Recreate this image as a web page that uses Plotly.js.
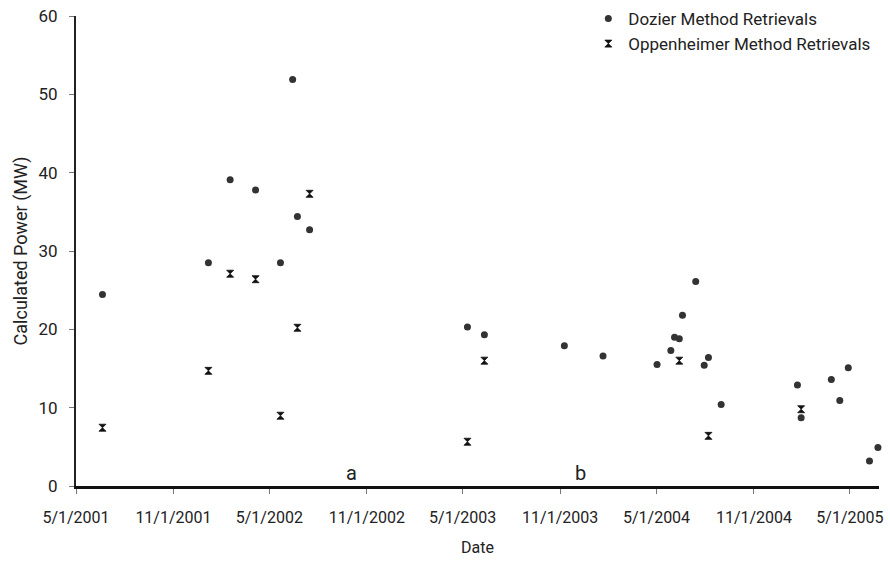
<!DOCTYPE html>
<html>
<head>
<meta charset="utf-8">
<script src="https://cdn.plot.ly/plotly-3.0.1.min.js"></script>
<style>html,body{margin:0;padding:0;background:#fff;}#chart{width:890px;height:572px;}</style>
</head>
<body>
<div id="chart"></div>
<script>
const dozierDates = ["2001-06-20","2002-01-06","2002-02-16","2002-04-05","2002-05-22","2002-06-14","2002-06-23","2002-07-16",
  "2003-05-10","2003-06-11","2003-11-09","2004-01-21",
  "2004-05-02","2004-05-28","2004-06-04","2004-06-13","2004-06-19","2004-07-14","2004-07-30","2004-08-07","2004-08-31",
  "2005-01-22","2005-01-29","2005-03-27","2005-04-12","2005-04-28","2005-06-07","2005-06-23"];
const dozierPower = [24.45,28.5,39.1,37.8,28.5,51.9,34.4,32.7,
  20.3,19.3,17.9,16.6,
  15.5,17.3,19.0,18.8,21.8,26.1,15.4,16.4,10.4,
  12.9,8.7,13.6,10.9,15.1,3.2,4.9];
const oppDates = ["2001-06-20","2002-01-06","2002-02-16","2002-04-05","2002-05-22","2002-06-23","2002-07-16",
  "2003-05-10","2003-06-11","2004-06-13","2004-08-07","2005-01-29"];
const oppPower = [7.44,14.7,27.1,26.4,8.97,20.2,37.3,5.65,16.0,16.0,6.4,9.8];
const tickVals = ["2001-05-01","2001-11-01","2002-05-01","2002-11-01","2003-05-01","2003-11-01","2004-05-01","2004-11-01","2005-05-01"];
const tickText = ["5/1/2001","11/1/2001","5/1/2002","11/1/2002","5/1/2003","11/1/2003","5/1/2004","11/1/2004","5/1/2005"];
const yTicks = [0,10,20,30,40,50,60];
const panelLabels = ["a","b"];
const panelDates = ["2002-10-04","2003-12-09"];
const panelY = [1.7,1.7];

const FONT = "Roboto, 'Liberation Sans', sans-serif";
const traces = [
  {type:"scatter", mode:"markers", name:"Dozier Method Retrievals", x:dozierDates, y:dozierPower,
   marker:{symbol:"circle", size:7, color:"#333333"}, cliponaxis:false},
  {type:"scatter", mode:"markers", name:"Oppenheimer Method Retrievals", x:oppDates, y:oppPower,
   marker:{symbol:"hourglass", size:7, color:"#111111", line:{width:0.8,color:"#111111"}}, cliponaxis:false}
];
const layout = {
  width:890, height:572,
  margin:{l:75.5, r:11, t:15.5, b:86, pad:0, autoexpand:false},
  paper_bgcolor:"#fff", plot_bgcolor:"#fff",
  font:{family:FONT, color:"#222", size:15},
  showlegend:true,
  legend:{x:0.638, y:1.032, xanchor:"left", yanchor:"top", bgcolor:"rgba(0,0,0,0)",
          font:{family:FONT, size:17, color:"#222"}, itemwidth:30, tracegroupgap:0},
  xaxis:{type:"date", range:["2001-05-01","2005-06-25"], tickvals:tickVals, ticktext:tickText,
         showgrid:false, zeroline:false, showline:true, linecolor:"#111", linewidth:2.5,
         ticks:"outside", ticklen:5, tickcolor:"#777", tickwidth:1, ticklabelstandoff:10,
         tickfont:{family:FONT, size:16, color:"#222"},
         title:{text:"Date", font:{family:FONT, size:16, color:"#222"}, standoff:16}},
  yaxis:{range:[0,60], tickvals:yTicks, showgrid:false, zeroline:false, showline:true,
         linecolor:"#222", linewidth:2, ticks:"outside", ticklen:5, tickcolor:"#777", tickwidth:1,
         ticklabelstandoff:8,
         tickfont:{family:FONT, size:17, color:"#222"},
         title:{text:"Calculated Power (MW)", font:{family:FONT, size:18, color:"#222"}, standoff:6}},
  annotations: panelLabels.map((t,i)=>({x:panelDates[i], y:panelY[i], xref:"x", yref:"y", text:t,
      showarrow:false, font:{family:FONT, size:20, color:"#222"}, xanchor:"center", yanchor:"middle"}))
};
Plotly.newPlot("chart", traces, layout, {displayModeBar:false, staticPlot:true});
</script>
</body>
</html>
